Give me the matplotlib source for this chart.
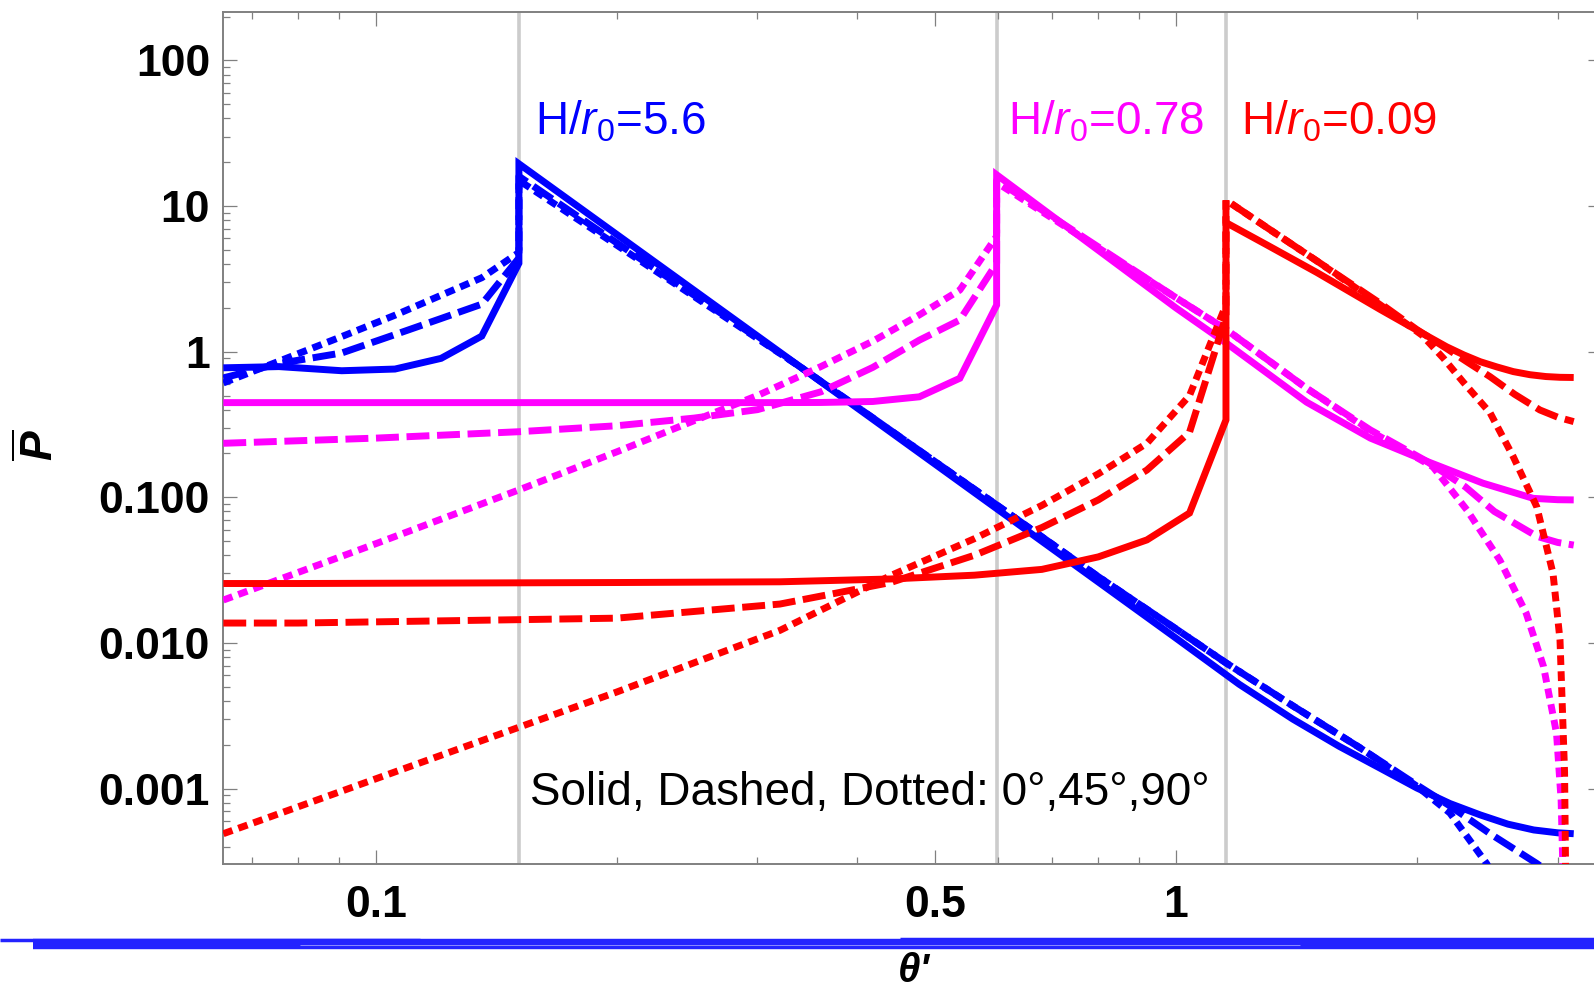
import matplotlib
matplotlib.use("Agg")
import matplotlib.pyplot as plt
from matplotlib.ticker import FixedLocator, FixedFormatter, NullFormatter
from matplotlib.lines import Line2D

plt.rcParams['font.family'] = ['Liberation Sans', 'DejaVu Sans']
plt.rcParams['mathtext.fontset'] = 'custom'
plt.rcParams['mathtext.rm'] = 'Liberation Sans'
plt.rcParams['mathtext.it'] = 'Liberation Sans:italic'
plt.rcParams['mathtext.bf'] = 'Liberation Sans:bold:italic'

# ---------------- data ----------------
theta_c = [0.151, 0.597, 1.155]          # grey vertical lines
labels = ["H/$r_0$=5.6", "H/$r_0$=0.78", "H/$r_0$=0.09"]
label_x = [0.158, 0.617, 1.205]
label_y = 30.8
colors = ["#0000ff", "#ff00ff", "#ff0000"]

# Blue, H/r0 = 5.6
blue_theta_pre = [0.0645, 0.0757, 0.0907, 0.1057, 0.1207, 0.1357, 0.151]
blue_solid_pre = [0.775, 0.79, 0.74, 0.76, 0.90, 1.28, 4.05]
blue_dashed_pre = [0.66, 0.83, 0.98, 1.31, 1.69, 2.12, 4.4]
blue_dotted_pre = [0.61, 0.86, 1.27, 1.78, 2.44, 3.22, 4.8]
blue_solid_theta = [0.151, 0.8, 1.0, 1.2, 1.4, 1.6, 1.8, 2.0, 2.2, 2.4, 2.6, 2.8, 3.0, 3.1416]
blue_solid_post = [19.5, 0.0262, 0.0108, 0.0052, 0.0030, 0.00195, 0.00138, 0.00101, 0.00079,
                   0.00066, 0.00057, 0.00052, 0.000497, 0.00049]
blue_dashed_theta = [0.151, 0.2, 0.34, 0.6, 0.8, 1.0, 1.155, 1.4, 1.7, 2.0, 2.2, 2.47, 2.825, 3.1416]
blue_dashed_post = [16.0, 5.6, 0.78, 0.087, 0.0285, 0.0125, 0.0073, 0.0037, 0.0019, 0.00106,
                    0.00076, 0.00049, 0.000306, 0.0002]
blue_dotted_theta = [0.151, 0.2, 0.34, 0.6, 0.8, 1.0, 1.155, 1.4, 1.7, 2.0, 2.2, 2.445, 2.7, 2.95]
blue_dotted_post = [15.0, 5.4, 0.78, 0.087, 0.0285, 0.0125, 0.0073, 0.0037, 0.0019, 0.00104,
                    0.00068, 0.000306, 0.00011, 0.00003]

# Magenta, H/r0 = 0.78
mag_theta_pre = [0.0645, 0.1, 0.1507, 0.2, 0.25, 0.3, 0.36, 0.418, 0.478, 0.537, 0.597]
mag_solid_pre = [0.447, 0.447, 0.447, 0.447, 0.447, 0.447, 0.448, 0.455, 0.49, 0.657, 2.09]
mag_dashed_pre = [0.235, 0.255, 0.282, 0.31, 0.35, 0.40, 0.53, 0.78, 1.2, 1.65, 4.05]
mag_dotted_pre = [0.0197, 0.048, 0.112, 0.205, 0.336, 0.50, 0.79, 1.18, 1.79, 2.65, 6.2]
mag_solid_theta = [0.597, 1.0, 1.16, 1.457, 1.75, 2.057, 2.42, 2.796, 3.0, 3.1416]
mag_solid_post = [16.4, 2.0, 1.13, 0.45, 0.255, 0.177, 0.125, 0.0984, 0.0963, 0.096]
mag_dashed_theta = [0.597, 1.0, 1.16, 1.457, 1.75, 2.057, 2.3, 2.5, 2.825, 3.0, 3.1416]
mag_dashed_post = [15.0, 2.35, 1.4, 0.56, 0.29, 0.177, 0.118, 0.08, 0.054, 0.049, 0.047]
mag_dotted_theta = [0.597, 1.0, 1.16, 1.457, 1.75, 2.095, 2.31, 2.54, 2.74, 2.88, 2.99, 3.03, 3.06]
mag_dotted_post = [14.5, 2.35, 1.4, 0.56, 0.285, 0.162, 0.082, 0.037, 0.016, 0.0069, 0.0024,
                   0.00083, 0.0001]

# Red, H/r0 = 0.09
red_theta_pre = [0.0645, 0.08, 0.2, 0.32, 0.44, 0.56, 0.68, 0.80, 0.92, 1.04, 1.155]
red_solid_pre = [0.0256, 0.0256, 0.026, 0.0263, 0.0275, 0.0292, 0.032, 0.039, 0.051, 0.078, 0.34]
red_dashed_pre = [0.0137, 0.0137, 0.0148, 0.0185, 0.026, 0.04, 0.062, 0.096, 0.154, 0.28, 1.75]
red_dotted_pre = [0.00049, 0.00075, 0.0046, 0.0122, 0.029, 0.052, 0.088, 0.145, 0.235, 0.50, 2.1]
red_solid_theta = [1.155, 1.3, 1.5, 1.8, 1.98, 2.18, 2.29, 2.4, 2.52, 2.64, 2.77, 2.9, 3.02, 3.1416]
red_solid_post = [7.7, 5.4, 3.5, 1.95, 1.45, 1.08, 0.95, 0.854, 0.785, 0.73, 0.695, 0.675,
                  0.667, 0.665]
red_dashed_theta = [1.155, 1.3, 1.5, 1.8, 2.0, 2.18, 2.32, 2.47, 2.65, 2.85, 3.0, 3.1416]
red_dashed_post = [11.0, 7.1, 4.2, 2.15, 1.42, 1.05, 0.84, 0.673, 0.51, 0.398, 0.355, 0.331]
red_dotted_theta = [1.155, 1.3, 1.5, 1.8, 2.03, 2.16, 2.285, 2.47, 2.64, 2.825, 2.96, 3.02, 3.04,
                    3.06, 3.075]
red_dotted_post = [11.0, 7.1, 4.2, 2.1, 1.3, 0.9, 0.62, 0.38, 0.19, 0.086, 0.030, 0.0105, 0.0037,
                   0.0013, 0.0001]

x_major = [0.1, 0.5, 1]
x_major_labels = ["0.1", "0.5", "1"]
x_minor = [0.07, 0.08, 0.09, 0.2, 0.3, 0.4, 0.6, 0.7, 0.8, 0.9, 2, 3]
y_major = [0.001, 0.01, 0.1, 1, 10, 100]
y_major_labels = ["0.001", "0.010", "0.100", "1", "10", "100"]
y_minor = [m * 10.0 ** e for e in range(-4, 3) for m in range(2, 10)]

note_text = "Solid, Dashed, Dotted: 0°,45°,90°"

# ---------------- figure ----------------
W, H = 1594, 992
fig = plt.figure(figsize=(W / 100, H / 100), dpi=100)
ax = fig.add_axes([223.3 / W, 1 - 863.7 / H, (1602 - 223.3) / W, (863.7 - 12.3) / H])
ax.set_xscale('log')
ax.set_yscale('log')
ax.set_xlim(0.0645, 3.408)
ax.set_ylim(3.05e-4, 214)

for tc in theta_c:
    ax.axvline(tc, color='#cccccc', lw=2.6, zorder=1)

LW = 5.0
dash_styles = {'solid': '-', 'dashed': (0, (3.3, 1.1)), 'dotted': (0, (1.4, 0.9))}

families = [
    (colors[0], blue_theta_pre,
     [(blue_solid_pre, blue_solid_theta, blue_solid_post, 'solid'),
      (blue_dashed_pre, blue_dashed_theta, blue_dashed_post, 'dashed'),
      (blue_dotted_pre, blue_dotted_theta, blue_dotted_post, 'dotted')]),
    (colors[1], mag_theta_pre,
     [(mag_solid_pre, mag_solid_theta, mag_solid_post, 'solid'),
      (mag_dashed_pre, mag_dashed_theta, mag_dashed_post, 'dashed'),
      (mag_dotted_pre, mag_dotted_theta, mag_dotted_post, 'dotted')]),
    (colors[2], red_theta_pre,
     [(red_solid_pre, red_solid_theta, red_solid_post, 'solid'),
      (red_dashed_pre, red_dashed_theta, red_dashed_post, 'dashed'),
      (red_dotted_pre, red_dotted_theta, red_dotted_post, 'dotted')]),
]

z = 3
for col, tpre, curves in families:
    for pre, tpost, post, style in curves:
        ax.plot(list(tpre) + list(tpost), list(pre) + list(post), color=col, lw=LW,
                ls=dash_styles[style], dash_capstyle='butt', solid_joinstyle='miter',
                solid_capstyle='butt', zorder=z)
        z += 0.01

for lab, lx, col in zip(labels, label_x, colors):
    ax.text(lx, label_y, lab, color=col, fontsize=33, ha='left', va='baseline', zorder=10)

ax.text(0.1558, 0.00077, note_text, color='black', fontsize=33, ha='left', va='baseline',
        zorder=10)

# ticks
ax.xaxis.set_major_locator(FixedLocator(x_major))
ax.xaxis.set_major_formatter(FixedFormatter(x_major_labels))
ax.xaxis.set_minor_locator(FixedLocator(x_minor))
ax.xaxis.set_minor_formatter(NullFormatter())
ax.yaxis.set_major_locator(FixedLocator(y_major))
ax.yaxis.set_major_formatter(FixedFormatter(y_major_labels))
ax.yaxis.set_minor_locator(FixedLocator(y_minor))
ax.yaxis.set_minor_formatter(NullFormatter())

ax.tick_params(which='both', direction='in', top=True, right=True, color='#808080',
               labelcolor='black', width=0.9)
ax.tick_params(which='major', length=10)
ax.tick_params(which='minor', length=5)
ax.tick_params(axis='x', which='major', pad=15)
ax.tick_params(axis='y', which='major', pad=9.5)
for lbl in ax.get_xticklabels() + ax.get_yticklabels():
    lbl.set_fontsize(32)
    lbl.set_fontweight('bold')

for sp in ax.spines.values():
    sp.set_color('#808080')
    sp.set_linewidth(1.4)

# axis labels
fig.text(39 / W, 1 - 445 / H, r'$\overline{\mathbf{P}}$', rotation=90, ha='center',
         va='center', fontsize=32)
fig.text(914 / W, 2.0 / H, "θ'", fontsize=29, fontweight='bold', fontstyle='italic',
         ha='center', va='bottom')

# blue brush stroke across the figure
stroke = '#2323ff'
fig.add_artist(Line2D([33 / W, 1.0], [1 - 944 / H, 1 - 944 / H], color=stroke, lw=7.5,
                      solid_capstyle='butt'))
fig.add_artist(Line2D([0.0, 420 / W], [1 - 940 / H, 1 - 940 / H], color=stroke, lw=2.5,
                      solid_capstyle='butt'))
fig.add_artist(Line2D([900 / W, 1.0], [1 - 939 / H, 1 - 939 / H], color=stroke, lw=2.5,
                      solid_capstyle='butt'))
fig.add_artist(Line2D([300 / W, 1300 / W], [1 - 945 / H, 1 - 945 / H], color='#9a9aff',
                      lw=0.6, solid_capstyle='butt'))

fig.savefig('out.png', dpi=100)
